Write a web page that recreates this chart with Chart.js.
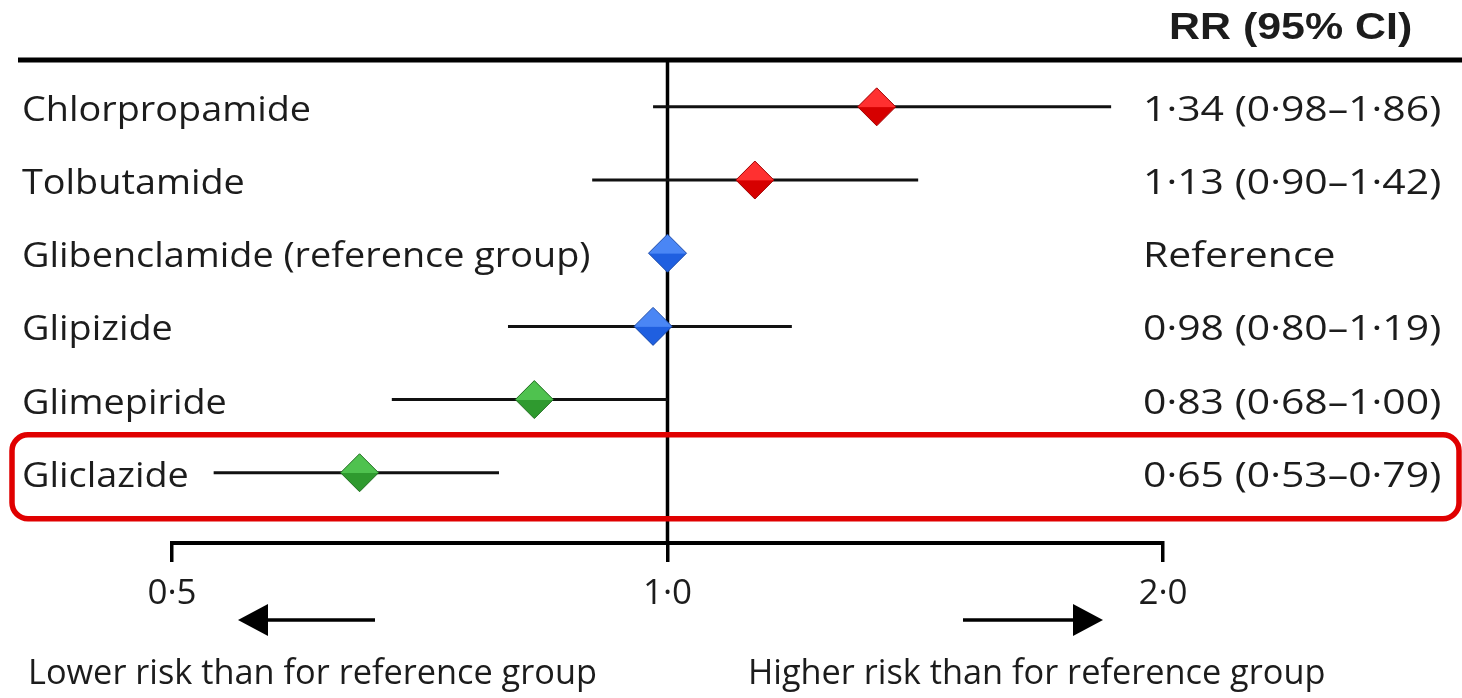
<!DOCTYPE html>
<html>
<head>
<meta charset="utf-8">
<script src="https://cdn.jsdelivr.net/npm/chart.js@4.4.1/dist/chart.umd.min.js"></script>
<style>
  html, body { margin: 0; padding: 0; background: #fff; }
  #wrap { position: relative; width: 1462px; height: 698px; }
</style>
</head>
<body>
<div id="wrap"><canvas id="forest"></canvas></div>
<script>
// data
const drugs = ['Chlorpropamide', 'Tolbutamide', 'Glibenclamide (reference group)', 'Glipizide', 'Glimepiride', 'Gliclazide'];
const rr = [1.34, 1.13, 1.00, 0.98, 0.83, 0.65];
const ciLow = [0.98, 0.90, null, 0.80, 0.68, 0.53];
const ciHigh = [1.86, 1.42, null, 1.19, 1.00, 0.79];
const rrText = ['1·34 (0·98–1·86)', '1·13 (0·90–1·42)', 'Reference', '0·98 (0·80–1·19)', '0·83 (0·68–1·00)', '0·65 (0·53–0·79)'];
const markerGroup = ['red', 'red', 'blue', 'blue', 'green', 'green'];
const xTicks = [0.5, 1, 2];
const xTickLabels = ['0·5', '1·0', '2·0'];
const highlightRow = 5;

const shades = {
  red: ['#ff3030', '#d60000', '#a00000'],
  blue: ['#4a86f5', '#1f5fe0', '#1747a8'],
  green: ['#4fc24f', '#2f9a2f', '#1f6e1f']
};
const BODY_FONT = '35px "Open Sans"';
const INK = '#1c1c1c';

function stretchText(ctx, str, x, y, font, sx, align) {
  ctx.save();
  ctx.font = font;
  ctx.fillStyle = INK;
  ctx.textBaseline = 'alphabetic';
  ctx.textAlign = align || 'left';
  ctx.translate(x, y);
  ctx.scale(sx, 1);
  ctx.fillText(str, 0, 0);
  ctx.restore();
}

function seg(ctx, x0, y0, x1, y1) {
  ctx.beginPath();
  ctx.moveTo(x0, y0);
  ctx.lineTo(x1, y1);
  ctx.stroke();
}

function roundRect(ctx, x, y, w, h, r) {
  ctx.beginPath();
  ctx.moveTo(x + r, y);
  ctx.arcTo(x + w, y, x + w, y + h, r);
  ctx.arcTo(x + w, y + h, x, y + h, r);
  ctx.arcTo(x, y + h, x, y, r);
  ctx.arcTo(x, y, x + w, y, r);
  ctx.closePath();
}

const forestPlugin = {
  id: 'forest',
  beforeDatasetsDraw(chart) {
    const { ctx, chartArea: a, scales: { x, y } } = chart;
    ctx.save();
    ctx.strokeStyle = '#000';
    // top rule under the header
    ctx.lineWidth = 5;
    seg(ctx, 18, a.top, 1462, a.top);
    // line of no effect
    ctx.lineWidth = 3.5;
    const x1 = x.getPixelForValue(1);
    seg(ctx, x1, a.top, x1, a.bottom);
    // confidence intervals
    ctx.lineWidth = 3;
    ctx.strokeStyle = '#111';
    drugs.forEach((d, i) => {
      if (ciLow[i] == null) return;
      const py = y.getPixelForValue(i);
      seg(ctx, x.getPixelForValue(ciLow[i]), py, x.getPixelForValue(ciHigh[i]), py);
    });
    ctx.restore();
  },
  afterDraw(chart) {
    const { ctx, scales: { y } } = chart;
    // row labels and RR column
    drugs.forEach((d, i) => {
      const py = y.getPixelForValue(i);
      stretchText(ctx, d, 22, py + 14, BODY_FONT, 1.08);
      stretchText(ctx, rrText[i], 1143, py + 14, BODY_FONT, 1.17);
    });
    stretchText(ctx, 'RR (95% CI)', 1169, 39, 'bold 37px "Liberation Sans"', 1.16);

    // direction arrows
    ctx.save();
    ctx.strokeStyle = '#000';
    ctx.fillStyle = '#000';
    ctx.lineWidth = 3.5;
    seg(ctx, 375, 620, 262, 620);
    ctx.beginPath();
    ctx.moveTo(238, 620); ctx.lineTo(268, 604); ctx.lineTo(268, 636); ctx.closePath(); ctx.fill();
    seg(ctx, 963, 620, 1078, 620);
    ctx.beginPath();
    ctx.moveTo(1103, 620); ctx.lineTo(1073, 604); ctx.lineTo(1073, 636); ctx.closePath(); ctx.fill();
    ctx.restore();
    stretchText(ctx, 'Lower risk than for reference group', 28, 684, BODY_FONT, 0.98);
    stretchText(ctx, 'Higher risk than for reference group', 748, 684, BODY_FONT, 0.98);

    // highlighted row
    const hy = y.getPixelForValue(highlightRow);
    ctx.save();
    ctx.strokeStyle = '#e00000';
    ctx.lineWidth = 5.5;
    roundRect(ctx, 12, hy - 38, 1447, 84, 16);
    ctx.stroke();
    ctx.restore();
  }
};

function diamondFill(c) {
  const chart = c.chart;
  const tone = shades[markerGroup[c.dataIndex]];
  if (!chart.chartArea || !chart.scales.y) return tone[1];
  const py = chart.scales.y.getPixelForValue(c.dataIndex);
  const g = chart.ctx.createLinearGradient(0, py - 19, 0, py + 19);
  g.addColorStop(0, tone[0]);
  g.addColorStop(0.5, tone[0]);
  g.addColorStop(0.52, tone[1]);
  g.addColorStop(1, tone[1]);
  return g;
}

new Chart(document.getElementById('forest'), {
  type: 'scatter',
  data: {
    datasets: [{
      data: rr.map((v, i) => ({ x: v, y: i })),
      pointStyle: 'rectRot',
      pointRadius: 19,
      pointHoverRadius: 19,
      backgroundColor: diamondFill,
      borderColor: (c) => shades[markerGroup[c.dataIndex]][2],
      borderWidth: 1
    }]
  },
  options: {
    responsive: true,
    maintainAspectRatio: false,
    animation: false,
    events: [],
    layout: { padding: { left: 172, right: 299, top: 60, bottom: 0 } },
    plugins: { legend: { display: false }, tooltip: { enabled: false } },
    scales: {
      x: {
        type: 'logarithmic',
        position: 'bottom',
        min: 0.5,
        max: 2,
        afterBuildTicks: (scale) => { scale.ticks = xTicks.map(v => ({ value: v })); },
        afterFit: (scale) => { scale.height = 155; },
        border: { display: true, color: '#000', width: 4 },
        grid: { drawOnChartArea: false, drawTicks: true, tickLength: 19, lineWidth: 3.5, color: '#000' },
        ticks: {
          autoSkip: false,
          maxRotation: 0,
          padding: 11,
          color: INK,
          font: { family: 'Open Sans', size: 35 },
          callback: (v, i) => xTickLabels[i]
        }
      },
      y: {
        type: 'linear',
        reverse: true,
        min: -0.64,
        max: 5.96,
        display: false
      }
    }
  },
  plugins: [forestPlugin]
});
</script>
</body>
</html>
